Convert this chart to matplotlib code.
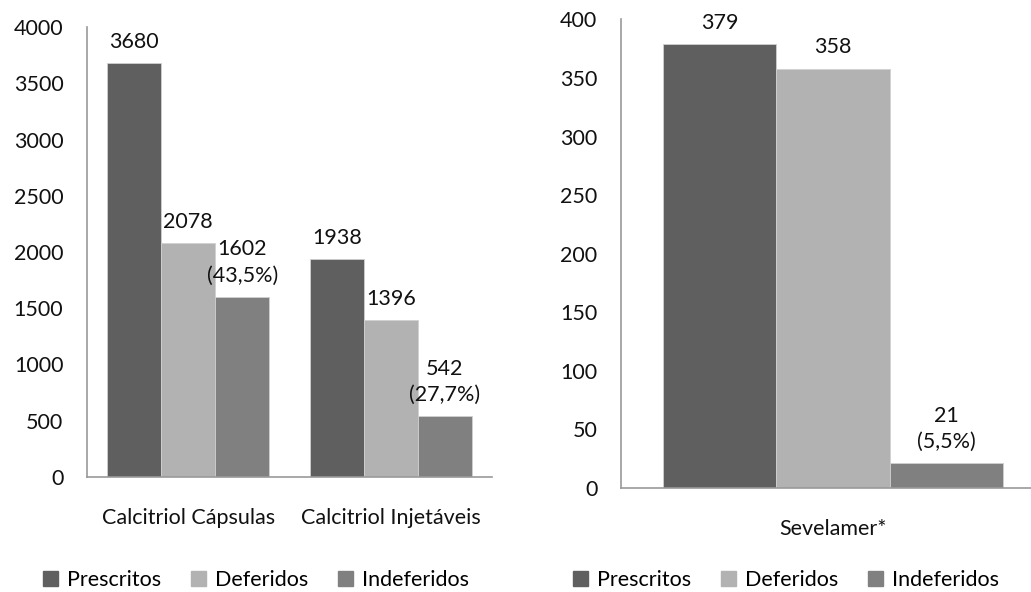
import numpy as np
import matplotlib
matplotlib.use("Agg")
import matplotlib.pyplot as plt
from matplotlib.patches import Patch

plt.rcParams['font.family'] = ['Lato', 'DejaVu Sans']

series = ["Prescritos", "Deferidos", "Indeferidos"]
colors = ["#5f5f5f", "#b2b2b2", "#808080"]

calcitriol_groups = ["Calcitriol Cápsulas", "Calcitriol Injetáveis"]
calcitriol_values = [[3680, 1938], [2078, 1396], [1602, 542]]
calcitriol_pct = ["43,5%", "27,7%"]
calcitriol_ticks = [0, 500, 1000, 1500, 2000, 2500, 3000, 3500, 4000]

sevelamer_groups = ["Sevelamer*"]
sevelamer_values = [[379], [358], [21]]
sevelamer_pct = ["5,5%"]
sevelamer_ticks = [0, 50, 100, 150, 200, 250, 300, 350, 400]

FS = 15.5
W = 0.267
TXT = "#111111"


def draw_panel(ax, groups, values, pct, ticks):
    x = np.arange(len(groups))
    for i, (name, vals) in enumerate(zip(series, values)):
        pos = x + (i - 1) * W
        ax.bar(pos, vals, W, color=colors[i], edgecolor="#d0d0d0", linewidth=0.6, label=name)
        for j, (p, v) in enumerate(zip(pos, vals)):
            txt = str(v)
            if i == 2:
                txt = f"{v}\n({pct[j]})"
            ax.annotate(txt, (p, v), xytext=(0, 8), textcoords="offset points",
                        ha="center", va="bottom", fontsize=FS, linespacing=1.4,
                        color=TXT)
    ax.set_xlim(-0.5, len(groups) - 0.5)
    ax.set_ylim(ticks[0], ticks[-1])
    ax.set_yticks(ticks)
    ax.set_xticks(x)
    ax.set_xticklabels(groups)
    ax.tick_params(axis="both", length=0, labelsize=FS, colors=TXT)
    ax.tick_params(axis="y", pad=17)
    ax.tick_params(axis="x", pad=22)
    for s in ["top", "right"]:
        ax.spines[s].set_visible(False)
    for s in ["left", "bottom"]:
        ax.spines[s].set_color("#999999")
        ax.spines[s].set_linewidth(1.2)


fig = plt.figure(figsize=(10.31, 5.92), dpi=100)
ax1 = fig.add_axes([87 / 1031, 1 - 477 / 592, 405 / 1031, 450 / 592])
ax2 = fig.add_axes([621 / 1031, 1 - 488 / 592, 424 / 1031, 468.6 / 592])

draw_panel(ax1, calcitriol_groups, calcitriol_values, calcitriol_pct, calcitriol_ticks)
draw_panel(ax2, sevelamer_groups, sevelamer_values, sevelamer_pct, sevelamer_ticks)

handles = [Patch(color=c, label=s) for s, c in zip(series, colors)]
for cx, cy in [(256 / 1031, 1 - 580 / 592), (786 / 1031, 1 - 580 / 592)]:
    fig.legend(handles=handles, loc="center", bbox_to_anchor=(cx, cy), ncol=3,
               frameon=False, fontsize=FS, handlelength=0.7, handleheight=0.7,
               handletextpad=0.4, columnspacing=1.4, borderpad=0)

fig.savefig("out.png", dpi=100)
